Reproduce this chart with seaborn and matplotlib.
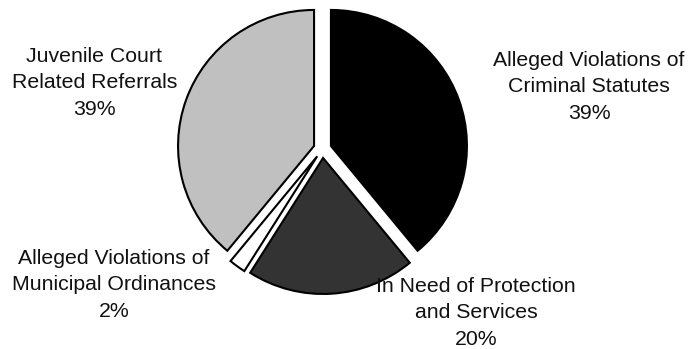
import matplotlib
matplotlib.use("Agg")
import matplotlib.pyplot as plt
import seaborn as sns

# Referral sources and their share of all referrals (percent)
categories = [
    "Alleged Violations of\nCriminal Statutes",
    "In Need of Protection\nand Services",
    "Alleged Violations of\nMunicipal Ordinances",
    "Juvenile Court\nRelated Referrals",
]
shares = [39, 20, 2, 39]
slice_colors = ["#000000", "#333333", "#ffffff", "#c0c0c0"]

sns.set_style("white")
plt.rcParams["font.family"] = ["Liberation Sans", "DejaVu Sans"]

W, H, DPI = 688, 349, 100
fig = plt.figure(figsize=(W / DPI, H / DPI), dpi=DPI)
ax = fig.add_axes([0, 0, 1, 1])

ax.pie(
    shares,
    colors=slice_colors,
    startangle=90,
    counterclock=False,
    explode=[0.066] * len(shares),
    wedgeprops=dict(edgecolor="black", linewidth=1.5),
)

# one data unit equals the pie radius in pixels
R = 136.0
cx, cy = 322.5, 149.0
ax.set_xlim(-cx / R, (W - cx) / R)
ax.set_ylim(-(H - cy) / R, cy / R)
ax.set_aspect("auto")
ax.axis("off")

# label anchors in pixel space (x from left, y from top)
label_pos = [(589, 87), (476, 313), (114, 285), (94.5, 83)]
for name, val, (px, py) in zip(categories, shares, label_pos):
    ax.text(
        (px - cx) / R,
        (cy - py) / R,
        f"{name}\n{val}%",
        ha="center",
        va="center",
        fontsize=15.3,
        color="#111111",
        linespacing=1.5,
    )

fig.savefig("out.png", dpi=DPI, facecolor="white")
